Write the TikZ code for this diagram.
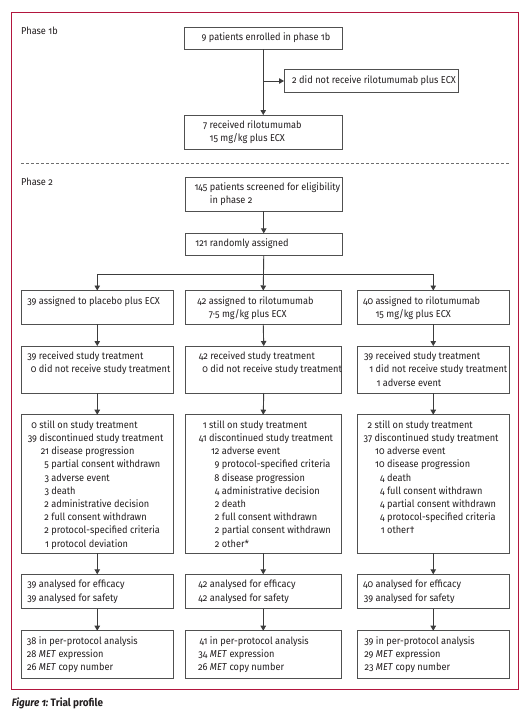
\documentclass[tikz,border=0pt]{standalone}
\usepackage{fontspec}
\setmainfont{Fira Sans}[Numbers=OldStyle,FakeStretch=0.92]
\usetikzlibrary{arrows.meta}
\definecolor{framecol}{RGB}{178,22,62}
\definecolor{boxline}{RGB}{80,80,80}
\definecolor{conn}{RGB}{60,60,60}
\definecolor{txt}{RGB}{35,31,32}
\definecolor{dashcol}{RGB}{110,110,110}
% box content: width, height, lines
\newcommand{\BX}[3]{\parbox[c][#2pt][t]{#1pt}{\hbox to #1pt{\hfil}\kern0.4pt #3}}
% numbered line: right edge of number, number, text
\newcommand{\NL}[3]{\hbox{\makebox[#1pt][r]{#2}\ #3}}
% continuation line
\newcommand{\CL}[2]{\hbox{\kern#1pt\ #2}}
\begin{document}
\begin{tikzpicture}[x=1pt,y=-1pt,
  font=\fontsize{10pt}{13.2pt}\selectfont, text=txt,
  box/.style={draw=boxline, line width=0.9pt, inner sep=0pt, outer sep=0pt, anchor=north west, fill=white},
  arr/.style={draw=conn, line width=0.9pt, -{Triangle[length=5pt,width=5.5pt]}},
  lab/.style={anchor=base west, inner sep=0pt}]
\useasboundingbox (0,0) rectangle (526,710);
\fill[white] (0,0) rectangle (526,710);
\draw[framecol, line width=0.9pt] (11,12.3) rectangle (518.5,689);

% Phase 1b
\node[lab] (ph1) at (21,34) {Phase 1b};
\node[box] (p1) at (184.5,27) {\BX{157.5}{22}{\NL{22}{9}{patients enrolled in phase 1b}}};
\node[box] (nr) at (284,69.5) {\BX{174.5}{23}{\NL{12.8}{2}{did not receive rilotumumab plus ECX}}};
\node[box] (rc) at (184.5,115) {\BX{157.5}{34}{\NL{22.7}{7}{received rilotumumab}\CL{22.7}{15 mg/kg plus ECX}}};
\draw[arr] (p1.south) -- (rc.north);
\draw[arr] (p1.south |- nr.west) -- (nr.west);

\draw[dashcol, line width=0.8pt, dash pattern=on 3pt off 2pt] (21,163) -- (510,163);

% Phase 2
\node[lab] (ph2) at (21,185.5) {Phase 2};
\node[box] (scr) at (185,177) {\BX{157.5}{34}{\NL{22.5}{145}{patients screened for eligibility}\CL{22.5}{in phase 2}}};
\node[box] (rnd) at (185,233.3) {\BX{157.5}{22}{\NL{22.5}{121}{randomly assigned}}};
\draw[arr] (scr.south) -- (rnd.north);

% row 1
\node[box] (a1) at (21,290.5) {\BX{152.5}{33.5}{\NL{15.5}{39}{assigned to placebo plus ECX}}};
\node[box] (a2) at (185.5,290.5) {\BX{155.5}{33.5}{\NL{21}{42}{assigned to rilotumumab}\CL{21}{7·5 mg/kg plus ECX}}};
\node[box] (a3) at (357,290.5) {\BX{152.5}{33.5}{\NL{16.1}{40}{assigned to rilotumumab}\CL{16.1}{15 mg/kg plus ECX}}};
\coordinate (split) at (0,274);
\draw[arr] (rnd.south) -- (a2.north);
\draw[arr] (rnd.south |- split) -| (a1.north);
\draw[arr] (rnd.south |- split) -| (a3.north);

% row 2
\node[box] (b1) at (21,346) {\BX{152.5}{47}{\NL{15.5}{39}{received study treatment}\NL{15.5}{0}{did not receive study treatment}}};
\node[box] (b2) at (185.5,346) {\BX{155.5}{47}{\NL{22.5}{42}{received study treatment}\NL{22.5}{0}{did not receive study treatment}}};
\node[box] (b3) at (357,346) {\BX{152.5}{47}{\NL{16.3}{39}{received study treatment}\NL{16.3}{1}{did not receive study treatment}\NL{23.5}{1}{adverse event}}};
\draw[arr] (a1.south) -- (b1.north);
\draw[arr] (a2.south) -- (b2.north);
\draw[arr] (a3.south) -- (b3.north);

% row 3
\node[box] (c1) at (21,414.7) {\BX{152.5}{138.3}{%
  \NL{16}{0}{still on study treatment}%
  \NL{16}{39}{discontinued study treatment}%
  \NL{28}{21}{disease progression}%
  \NL{28}{5}{partial consent withdrawn}%
  \NL{28}{3}{adverse event}%
  \NL{28}{3}{death}%
  \NL{28}{2}{administrative decision}%
  \NL{28}{2}{full consent withdrawn}%
  \NL{28}{2}{protocol-specified criteria}%
  \NL{28}{1}{protocol deviation}}};
\node[box] (c2) at (185.5,414.7) {\BX{155.5}{138.3}{%
  \NL{21.2}{1}{still on study treatment}%
  \NL{21.2}{41}{discontinued study treatment}%
  \NL{34}{12}{adverse event}%
  \NL{34}{9}{protocol-specified criteria}%
  \NL{34}{8}{disease progression}%
  \NL{34}{4}{administrative decision}%
  \NL{34}{2}{death}%
  \NL{34}{2}{full consent withdrawn}%
  \NL{34}{2}{partial consent withdrawn}%
  \NL{34}{2}{other*}}};
\node[box] (c3) at (357,414.7) {\BX{152.5}{138.3}{%
  \NL{15.2}{2}{still on study treatment}%
  \NL{15.2}{37}{discontinued study treatment}%
  \NL{27.7}{10}{adverse event}%
  \NL{27.7}{10}{disease progression}%
  \NL{27.7}{4}{death}%
  \NL{27.7}{4}{full consent withdrawn}%
  \NL{27.7}{4}{partial consent withdrawn}%
  \NL{27.7}{4}{protocol-specified criteria}%
  \NL{27.7}{1}{other†}}};
\draw[arr] (b1.south) -- (c1.north);
\draw[arr] (b2.south) -- (c2.north);
\draw[arr] (b3.south) -- (c3.north);

% row 4
\node[box] (d1) at (21,574.3) {\BX{152.5}{34.4}{\NL{15.5}{39}{analysed for efficacy}\NL{15.5}{39}{analysed for safety}}};
\node[box] (d2) at (185.5,574.3) {\BX{155.5}{34.4}{\NL{22}{42}{analysed for efficacy}\NL{22}{42}{analysed for safety}}};
\node[box] (d3) at (357,574.3) {\BX{152.5}{34.4}{\NL{16.1}{40}{analysed for efficacy}\NL{16.1}{39}{analysed for safety}}};
\draw[arr] (c1.south) -- (d1.north);
\draw[arr] (c2.south) -- (d2.north);
\draw[arr] (c3.south) -- (d3.north);

% row 5
\node[box] (e1) at (21,630.7) {\BX{152.5}{47.3}{\NL{15.5}{38}{in per-protocol analysis}\NL{15.5}{28}{\textit{MET} expression}\NL{15.5}{26}{\textit{MET} copy number}}};
\node[box] (e2) at (185.5,630.7) {\BX{155.5}{47.3}{\NL{22}{41}{in per-protocol analysis}\NL{22}{34}{\textit{MET} expression}\NL{22}{26}{\textit{MET} copy number}}};
\node[box] (e3) at (357,630.7) {\BX{152.5}{47.3}{\NL{16.5}{39}{in per-protocol analysis}\NL{16.5}{29}{\textit{MET} expression}\NL{16.5}{23}{\textit{MET} copy number}}};
\draw[arr] (d1.south) -- (e1.north);
\draw[arr] (d2.south) -- (e2.north);
\draw[arr] (d3.south) -- (e3.north);

% caption
\node[lab, font=\fontsize{10.8pt}{13pt}\selectfont] (cap) at (11.7,706) {\bfseries\itshape Figure 1:\upshape\ Trial profile};
\end{tikzpicture}
\end{document}
